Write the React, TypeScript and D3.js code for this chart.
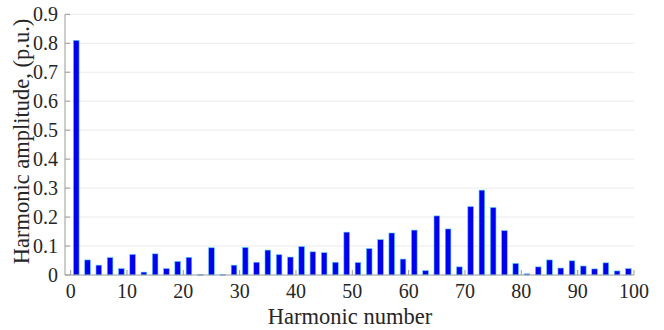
import React from "react";
import * as d3 from "d3";

// Odd harmonic orders and their amplitudes (p.u.)
const harmonicOrders: number[] = d3.range(1, 100, 2);
const amplitudes: number[] = [
  0.81, 0.052, 0.034, 0.06, 0.022, 0.071, 0.01, 0.073, 0.022, 0.047,
  0.061, 0.001, 0.094, 0.001, 0.034, 0.095, 0.044, 0.086, 0.07, 0.062,
  0.098, 0.08, 0.077, 0.044, 0.148, 0.043, 0.091, 0.122, 0.145, 0.055,
  0.155, 0.015, 0.204, 0.159, 0.028, 0.236, 0.293, 0.233, 0.153, 0.04,
  0.004, 0.028, 0.052, 0.024, 0.049, 0.031, 0.021, 0.042, 0.014, 0.022,
];
const xTicks: number[] = [0, 10, 20, 30, 40, 50, 60, 70, 80, 90, 100];
const yTicks: number[] = [0, 0.1, 0.2, 0.3, 0.4, 0.5, 0.6, 0.7, 0.8, 0.9];
const xTitle = "Harmonic number";
const yTitle = "Harmonic amplitude, (p.u.)";

const W = 664;
const H = 330;
const left = 65;
const right = 634;
const top = 14.3;
const bottom = 275;
const font = "Liberation Serif, Times New Roman, serif";

export default function App() {
  const x = d3.scaleLinear().domain([-1, 100]).range([left, right]);
  const y = d3.scaleLinear().domain([0, 0.9]).range([bottom, top]);
  const bw = x(0.5) - x(-0.5);
  const fmt = d3.format("");
  const textStyle = { fontFamily: font };

  return (
    <svg
      width={W}
      height={H}
      style={{ position: "absolute", left: 0, top: 0, background: "#fff" }}
    >
      {/* horizontal grid */}
      {yTicks.slice(1).map((t) => (
        <line
          key={`g${t}`}
          x1={left}
          x2={right}
          y1={y(t)}
          y2={y(t)}
          stroke="#ebebeb"
          strokeWidth={1}
        />
      ))}
      {/* bars */}
      {harmonicOrders.map((h, i) => (
        <rect
          key={h}
          x={x(h) - bw / 2}
          y={y(amplitudes[i])}
          width={bw}
          height={Math.max(0.5, y(0) - y(amplitudes[i]))}
          fill="#0000f0"
          stroke="#55ccf5"
          strokeWidth={0.6}
        />
      ))}
      {/* axes */}
      <line x1={left} x2={left} y1={top} y2={bottom} stroke="#9a9a9a" strokeWidth={1} />
      <line x1={left} x2={right} y1={bottom} y2={bottom} stroke="#9a9a9a" strokeWidth={1} />
      {xTicks.map((t) => (
        <g key={`x${t}`}>
          <line x1={x(t)} x2={x(t)} y1={bottom} y2={bottom - 5} stroke="#9a9a9a" strokeWidth={1} />
          <text
            x={x(t)}
            y={bottom + 23}
            textAnchor="middle"
            style={textStyle}
            fontSize={20}
            fill="#262626"
          >
            {t}
          </text>
        </g>
      ))}
      {yTicks.map((t) => (
        <g key={`y${t}`}>
          <line x1={left} x2={left + 5} y1={y(t)} y2={y(t)} stroke="#9a9a9a" strokeWidth={1} />
          <text
            x={left - 7}
            y={y(t) + 6.5}
            textAnchor="end"
            style={textStyle}
            fontSize={20}
            fill="#262626"
          >
            {fmt(t)}
          </text>
        </g>
      ))}
      <text
        x={350}
        y={H - 6}
        textAnchor="middle"
        style={textStyle}
        fontSize={22.5}
        fill="#262626"
      >
        {xTitle}
      </text>
      <text
        transform={`translate(28.5, 141.5) rotate(-90)`}
        textAnchor="middle"
        style={textStyle}
        fontSize={22.5}
        fill="#262626"
      >
        {yTitle}
      </text>
    </svg>
  );
}
